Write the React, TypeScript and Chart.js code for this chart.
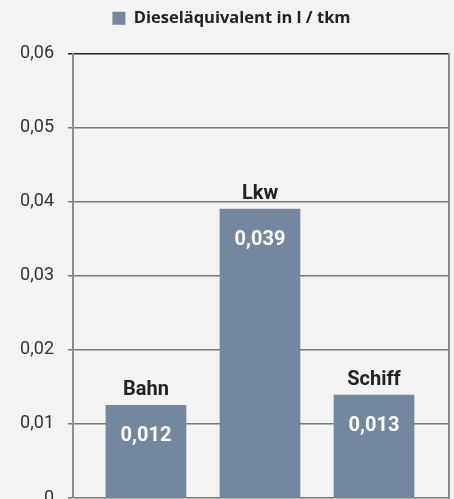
import React, { useEffect, useRef } from "react";
import { Chart, registerables } from "chart.js";

Chart.register(...registerables);

// ---- data ----
const categories: string[] = ["Bahn", "Lkw", "Schiff"];
const positions: number[] = [1, 2, 3];
const values: number[] = [0.0125, 0.039, 0.0139];
const valueLabels: string[] = ["0,012", "0,039", "0,013"];
const seriesName = "Dieseläquivalent in l / tkm";
const yMin = 0;
const yMax = 0.06;
const yStep = 0.01;

const BAR_COLOR = "#73889f";
const FONT = "Roboto";

const labelPlugin = {
  id: "barLabels",
  afterDatasetsDraw(chart: any) {
    const ctx = chart.ctx;
    const meta = chart.getDatasetMeta(0);
    ctx.save();
    ctx.textAlign = "center";
    ctx.textBaseline = "alphabetic";
    meta.data.forEach((bar: any, i: number) => {
      ctx.fillStyle = "#222222";
      ctx.font = `bold 20px ${FONT}`;
      ctx.fillText(categories[i], bar.x, bar.y - 10);
      ctx.fillStyle = "#ffffff";
      ctx.font = `bold 20px ${FONT}`;
      ctx.fillText(valueLabels[i], bar.x, bar.y + 36);
    });
    ctx.restore();
  },
};

const legendSpacer = {
  id: "legendSpacer",
  beforeInit(chart: any) {
    const orig = chart.legend.fit;
    chart.legend.fit = function () {
      orig.call(this);
      this.height += 17;
    };
  },
  afterLayout(chart: any) {
    chart.legend.left += 7;
    chart.legend.right += 7;
  },
};

export default function App() {
  const ref = useRef<HTMLCanvasElement | null>(null);

  useEffect(() => {
    if (!ref.current) return;
    const chart = new Chart(ref.current, {
      type: "bar",
      data: {
        datasets: [
          {
            label: seriesName,
            data: positions.map((x, i) => ({ x, y: values[i] })),
            backgroundColor: BAR_COLOR,
            borderWidth: 0,
            barThickness: 80,
          },
        ],
      },
      options: {
        animation: false,
        responsive: false,
        layout: { padding: { top: 0, right: 5, bottom: 42, left: 0 } },
        plugins: {
          tooltip: { enabled: false },
          legend: {
            display: true,
            position: "top",
            align: "center",
            labels: {
              boxWidth: 13,
              boxHeight: 13,
              padding: 10,
              color: "#222222",
              font: { family: "Open Sans", size: 16.5, weight: "bold" },
            },
          },
        },
        scales: {
          x: {
            type: "linear",
            display: false,
            offset: false,
            min: 0.36,
            max: 3.658,
          },
          y: {
            min: yMin,
            max: yMax,
            afterFit(scale: any) {
              scale.width = 73;
            },
            ticks: {
              stepSize: yStep,
              padding: 14,
              color: "#333333",
              font: { family: FONT, size: 18 },
              callback: (v: any) => {
                const n = Math.round(Number(v) * 100) / 100;
                return n === 0 ? "0" : n.toFixed(2).replace(".", ",");
              },
            },
            grid: {
              color: (c: any) =>
                c.tick && Math.abs(c.tick.value - yMax) < 1e-9 ? "#222222" : "#7a7a7a",
              lineWidth: 1.5,
              tickLength: 5,
            },
            border: { display: true, color: "#8c8c8c", width: 2 },
          },
          yr: {
            position: "right",
            min: yMin,
            max: yMax,
            afterFit(scale: any) {
              scale.width = 0;
            },
            ticks: { display: false },
            grid: { display: false, drawTicks: false },
            border: { display: true, color: "#8c8c8c", width: 2 },
          },
        },
      },
      plugins: [labelPlugin, legendSpacer],
    } as any);
    return () => chart.destroy();
  }, []);

  return (
    <div
      style={{
        width: 454,
        height: 499,
        overflow: "hidden",
        background: "#f3f3f1",
      }}
    >
      <style>{`body{margin:0;background:#f3f3f1;overflow:hidden}`}</style>
      <canvas ref={ref} width={454} height={540} style={{ display: "block" }} />
    </div>
  );
}
